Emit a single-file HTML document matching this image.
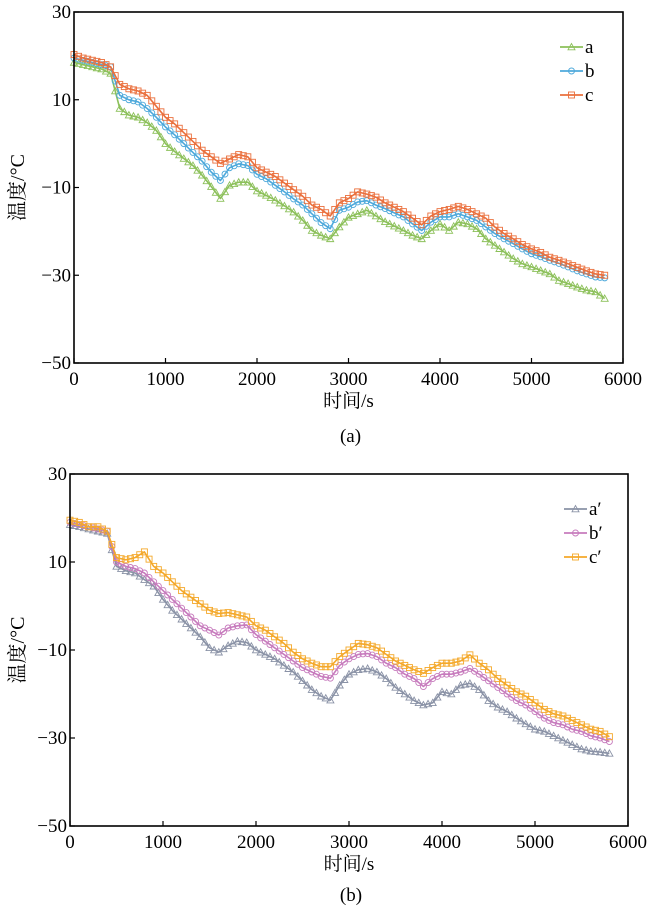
<!DOCTYPE html>
<html><head><meta charset="utf-8">
<style>
html,body{margin:0;padding:0;background:#fff;}
svg{display:block;}
text{font-family:"Liberation Serif","Noto Serif CJK SC",serif;fill:#000;}
</style></head>
<body>
<svg id="chart" width="648" height="909" viewBox="0 0 648 909" xmlns="http://www.w3.org/2000/svg"></svg>
<script>
const times = [0,100,200,300,400,500,600,700,800,900,1000,1100,1200,1300,1400,1500,1600,1700,1800,1900,2000,2100,2200,2300,2400,2500,2600,2700,2800,2900,3000,3100,3200,3300,3400,3500,3600,3700,3800,3900,4000,4100,4200,4300,4400,4500,4600,4700,4800,4900,5000,5100,5200,5300,5400,5500,5600,5700,5800];
const seriesA = [18.5,18,17.5,17,16,8,6.5,6,4.8,3,0,-1.8,-3.4,-5,-7.2,-9.8,-12.5,-9.5,-8.8,-8.8,-10.8,-11.8,-12.9,-14.2,-15.6,-17.5,-19.8,-20.9,-21.7,-19,-16.8,-16,-15.2,-16.5,-17.8,-18.8,-19.8,-20.9,-21.7,-19.8,-18.3,-19.8,-17.9,-18.3,-19.4,-21.7,-23.2,-24.7,-26.2,-27.4,-28.1,-28.9,-29.7,-31.2,-31.9,-32.7,-33.4,-33.8,-35.3];
const seriesB = [19.5,19,18.5,18,17.5,11,10,9.5,8,6,3.8,2,0,-2,-4,-6.5,-8.4,-5.5,-4.6,-5,-7,-8,-9.5,-11,-12.6,-14,-16,-18,-19.4,-15.2,-14.5,-13.3,-13,-14,-14.8,-15.8,-16.7,-18.3,-19.8,-17.9,-16.7,-16.7,-16,-16.7,-17.5,-19,-20.5,-21.7,-22.8,-24,-25.1,-25.8,-26.6,-27.3,-28.1,-29,-29.7,-30.4,-30.6];
const seriesC = [20.3,19.5,19,18.5,17.5,13.5,12.5,12,11,8.5,6,4.5,2.5,0.5,-1.5,-3,-4.5,-3.5,-2.5,-3,-5.5,-6.5,-7.5,-9,-10.5,-12,-14,-15,-16.5,-13.5,-12.5,-11,-11.5,-12.2,-13.5,-14.5,-15.5,-17,-18.5,-16.5,-15.5,-15,-14.3,-15,-16,-17,-19,-20.5,-21.7,-23,-24,-24.8,-25.9,-26.6,-27.4,-28.2,-29,-29.7,-30];
const seriesA2 = [18.5,18,17.5,17,16.5,9,8,7.5,6,4.5,1.5,-1,-3,-5,-7,-9.5,-10.5,-9,-8,-8.3,-10,-11,-12,-13.5,-15,-17,-19,-20.5,-21.4,-18,-15.5,-14.5,-14.2,-15,-16.5,-18.5,-20,-21.5,-22.5,-22,-19.5,-20,-18,-17.6,-19,-21.5,-23,-24,-25.5,-26.8,-28,-28.5,-29.5,-30.5,-31.5,-32.5,-33,-33.2,-33.5];
const seriesB2 = [19,18.5,18,17.5,17,10,9,8.5,7.5,5.5,3.5,1.5,-0.5,-2.5,-4.5,-5.5,-6.6,-5,-4.5,-4.3,-6.5,-8,-9.5,-11,-12.5,-14,-15,-16,-16.4,-13.5,-12,-11,-10.8,-11.5,-13,-14,-15.5,-16.5,-18.3,-16.5,-15.5,-15.5,-15,-14.2,-15.5,-17,-18.5,-20,-21.5,-22.5,-24,-25.5,-26.5,-27,-28,-28.5,-29.5,-30,-30.8];
const seriesC2 = [19.5,19,18,18,17,11,10.5,11,12.3,9,7.5,5.5,3.5,2,0.5,-1,-1.7,-1.5,-2,-2.5,-4.5,-5.5,-7,-8.5,-10.5,-12,-13,-13.8,-13.8,-11.5,-10,-8.5,-8.8,-9.5,-11,-12.5,-13.5,-14.5,-15.3,-14,-13,-13,-12.5,-11.1,-13,-14.5,-16.5,-18,-19.5,-20.5,-22,-23.5,-24.5,-25,-26,-27,-28,-28.5,-29.7];
const xTicks = [0,1000,2000,3000,4000,5000,6000];
const yTicks = [30,10,-10,-30,-50];
const labelsTop = ["a","b","c"];
const labelsBottom = ["a′","b′","c′"];

const NS = "http://www.w3.org/2000/svg";
const svg = document.getElementById("chart");
function mk(tag, attrs, parent){
  const e = document.createElementNS(NS, tag);
  for (const k in attrs) e.setAttribute(k, attrs[k]);
  (parent||svg).appendChild(e);
  return e;
}
function marker(g, shape, x, y, color){
  let m;
  if (shape === "tri") {
    m = mk("polygon",{points:`${x},${y-3.5} ${x-3.5},${y+2.8} ${x+3.5},${y+2.8}`,fill:"none",stroke:color,"stroke-width":0.9},g);
  } else if (shape === "circ") {
    m = mk("circle",{cx:x,cy:y,r:3,fill:"none",stroke:color,"stroke-width":0.9},g);
  } else {
    m = mk("rect",{x:x-3,y:y-3,width:6,height:6,fill:"none",stroke:color,"stroke-width":0.9},g);
  }
  return m;
}
function drawPanel(cfg){
  const {L,R,T,B,series,name,caption,legendX,legendY} = cfg;
  const g = mk("g",{});
  
  
  const xs = v => L + (v/6000)*(R-L);
  const ys = v => T + (30-v)/80*(B-T);
  series.forEach((s, si) => {
    const sg = mk("g",{},g);
    
    
    const pts = times.map((t,i)=>xs(t).toFixed(1)+","+ys(s.vals[i]).toFixed(1)).join(" ");
    mk("polyline",{points:pts,fill:"none",stroke:s.color,"stroke-width":1.6,"stroke-linejoin":"round"},sg);
    times.forEach((t,i)=>{
      const m = marker(sg, s.shape, xs(t), ys(s.vals[i]), s.color);
      
      
      if (i < times.length-1) {
        const mm = marker(sg, s.shape, (xs(t)+xs(times[i+1]))/2, (ys(s.vals[i])+ys(s.vals[i+1]))/2, s.color);
        
        
      }
    });
    const ly = legendY + si*24;
    const lg = mk("g",{},g);
    
    
    mk("line",{x1:legendX,y1:ly,x2:legendX+23,y2:ly,stroke:s.color,"stroke-width":1.8},lg);
    marker(lg, s.shape, legendX+11.5, ly, s.color);
    const lt = mk("text",{x:legendX+25,y:ly+6,"font-size":19},lg);
    lt.textContent = s.label;
  });
  const frame = mk("rect",{x:L,y:T,width:R-L,height:B-T,fill:"none",stroke:"#000","stroke-width":1.6},g);
  
  
  xTicks.forEach(v=>{
    const x = xs(v);
    mk("line",{x1:x,y1:B,x2:x,y2:B-5,stroke:"#000","stroke-width":1.2},g);
    const t = mk("text",{x:x,y:B+22,"font-size":19,"text-anchor":"middle"},g);
    
    
    t.textContent = v;
  });
  yTicks.forEach(v=>{
    const y = ys(v);
    mk("line",{x1:L,y1:y,x2:L+5,y2:y,stroke:"#000","stroke-width":1.2},g);
    const t = mk("text",{x:L-3,y:y+6,"font-size":19,"text-anchor":"end"},g);
    
    
    t.textContent = v < 0 ? "−" + Math.abs(v) : v;
  });
  const xt = mk("text",{x:(L+R)/2,y:B+44,"font-size":19,"text-anchor":"middle"},g);
  
  
  xt.textContent = "时间/s";
  const cy = (T+B)/2;
  const yt = mk("text",{x:0,y:0,"font-size":20,"text-anchor":"middle",transform:`translate(24,${cy}) rotate(-90)`},g);
  
  
  yt.textContent = "温度/°C";
  const cap = mk("text",{x:(L+R)/2+2,y:caption,"font-size":19,"text-anchor":"middle"},g);
  
  
  cap.textContent = name === "panel-a" ? "(a)" : "(b)";
}
drawPanel({L:74,R:623,T:12,B:363,name:"panel-a",caption:442,legendX:560,legendY:47,
  series:[
    {label:labelsTop[0],vals:seriesA,color:"#8cc05a",shape:"tri"},
    {label:labelsTop[1],vals:seriesB,color:"#4ea9db",shape:"circ"},
    {label:labelsTop[2],vals:seriesC,color:"#ea6f3c",shape:"sq"}
  ]});
drawPanel({L:70,R:628,T:474,B:826,name:"panel-b",caption:901,legendX:564,legendY:509,
  series:[
    {label:labelsBottom[0],vals:seriesA2,color:"#8a92a6",shape:"tri"},
    {label:labelsBottom[1],vals:seriesB2,color:"#c77bbd",shape:"circ"},
    {label:labelsBottom[2],vals:seriesC2,color:"#f4a82a",shape:"sq"}
  ]});
</script>
</body></html>
